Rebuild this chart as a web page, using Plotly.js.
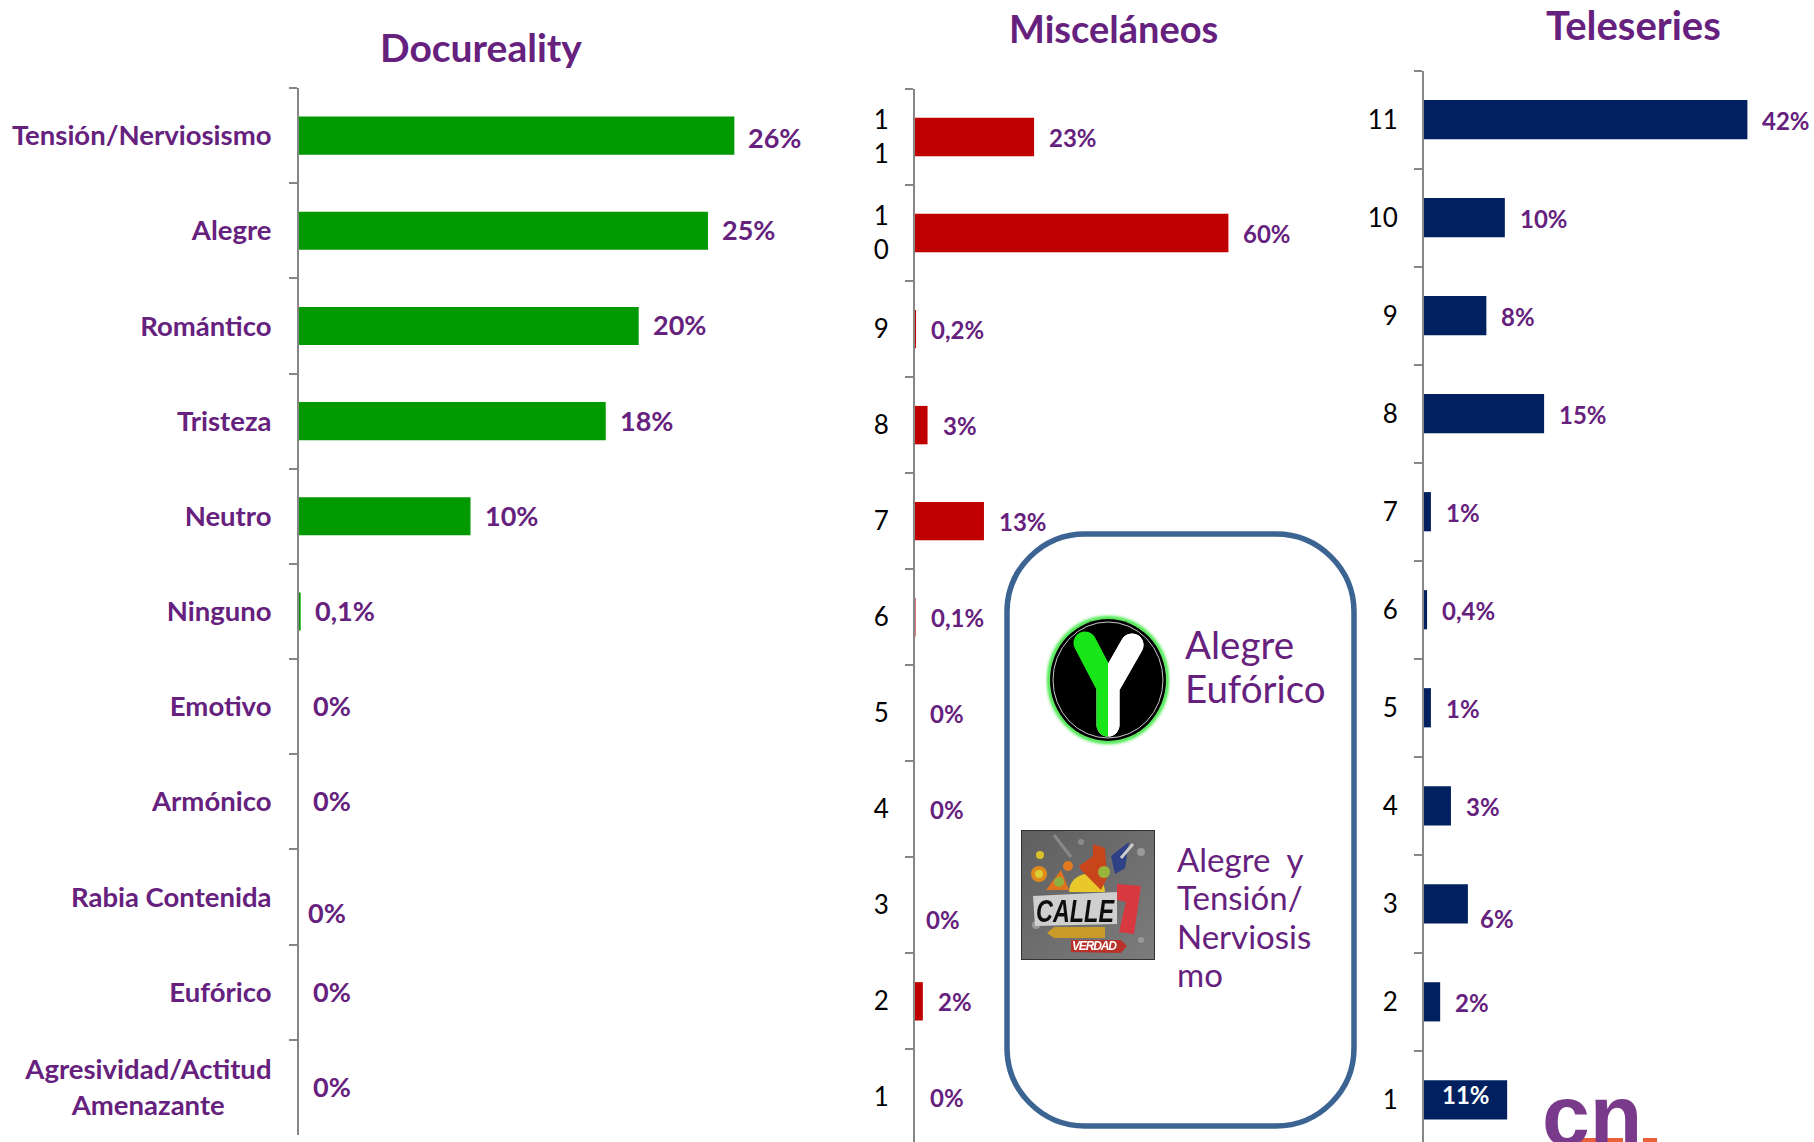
<!DOCTYPE html>
<html><head><meta charset="utf-8">
<script src="https://cdn.plot.ly/plotly-3.0.1.min.js"></script>
<style>html,body{margin:0;padding:0;background:#fff}#c{width:1814px;height:1142px}</style>
</head><body><div id="c"></div>
<script>
const W = 1814, H = 1142;
const PURPLE = '#65217d', GRAY = '#868686';
const FONT = 'Lato, "Open Sans", sans-serif';

// Data, top to bottom in each panel
const docuCategories = ['Tensión/Nerviosismo','Alegre','Romántico','Tristeza','Neutro','Ninguno','Emotivo','Armónico','Rabia Contenida','Eufórico','Agresividad/Actitud<br>Amenazante\u00a0\u00a0\u00a0\u00a0\u00a0\u00a0\u00a0'];
const docuValues = [26.4,24.8,20.6,18.6,10.4,0.1,0,0,0,0,0];
const docuLabels = ['26%','25%','20%','18%','10%','0,1%','0%','0%','0%','0%','0%'];

const miscCategories = ['1<br>1','1<br>0','9','8','7','6','5','4','3','2','1'];
const miscValues = [22.8,60,0.2,2.4,13.2,0.1,0,0,0,1.5,0];
const miscLabels = ['23%','60%','0,2%','3%','13%','0,1%','0%','0%','0%','2%','0%'];

const teleCategories = ['11','10','9','8','7','6','5','4','3','2','1'];
const teleValues = [42,10.5,8.1,15.6,0.9,0.4,0.9,3.5,5.7,2.1,10.8];
const teleLabels = ['42%','10%','8%','15%','1%','0,4%','1%','3%','6%','2%','11%'];

// Per-label nudges in pixels [x, y-up]; everything else uses the panel default
const docuNudge = {0:[12,-2], 8:[7,-15]};
const miscNudge = {8:[9,-14]};
const teleNudge = {8:[10,-15], 10:[-67,5]};

const px = x => x / W, py = y => 1 - y / H;
const panels = [
 {ax:'',  cats:docuCategories, vals:docuValues, labels:docuLabels, color:'#009900',
  left:299, right:830, top:88, bottom:1135, rmax:32.2, rbot:10.5,
  tickFont:{family:FONT,size:27.5,color:PURPLE,weight:700}, standoff:20, lsize:27, dx:12, dy:1, nudge:docuNudge},
 {ax:'2', cats:miscCategories, vals:miscValues, labels:miscLabels, color:'#c00000',
  left:915, right:1300, top:89, bottom:1142, rmax:73.7, rbot:10.465,
  tickFont:{family:FONT,size:26,color:'#000000'}, standoff:19, lsize:24, dx:13, dy:0, nudge:miscNudge},
 {ax:'3', cats:teleCategories, vals:teleValues, labels:teleLabels, color:'#002060',
  left:1424, right:1814, top:70.6, bottom:1142, rmax:50.65, rbot:10.43,
  tickFont:{family:FONT,size:26,color:'#000000'}, standoff:19, lsize:24, dx:13, dy:-1, nudge:teleNudge}
];

const traces = [], annotations = [];
const layout = {
  width:W, height:H, margin:{l:0,r:0,t:0,b:0}, showlegend:false,
  paper_bgcolor:'#fff', plot_bgcolor:'rgba(0,0,0,0)', font:{family:FONT},
  bargap:0.6, annotations
};
panels.forEach(p => {
  traces.push({type:'bar', orientation:'h', x:p.vals, y:p.cats, width:0.4, xaxis:'x'+p.ax, yaxis:'y'+p.ax,
    marker:{color:p.color, line:{width:0}}, hoverinfo:'skip', cliponaxis:false});
  layout['xaxis'+p.ax] = {domain:[px(p.left),px(p.right)], range:[0,p.rmax], visible:false, anchor:'y'+p.ax, fixedrange:true};
  layout['yaxis'+p.ax] = {domain:[py(p.bottom),py(p.top)], type:'category', categoryorder:'array', categoryarray:p.cats,
    range:[p.rbot,-0.5], anchor:'x'+p.ax, showline:true, linecolor:GRAY, linewidth:2, showgrid:false, zeroline:false,
    ticks:'outside', tickson:'boundaries', ticklen:8, tickwidth:2, tickcolor:GRAY, tickfont:p.tickFont,
    ticklabelstandoff:p.standoff, automargin:false, fixedrange:true};
  p.labels.forEach((t,i) => {
    const n = p.nudge[i] || [p.dx, p.dy];
    const white = p.ax==='3' && i===10;
    annotations.push({xref:'x'+p.ax, yref:'y'+p.ax, x:p.vals[i], y:i, text:t, showarrow:false,
      xanchor:'left', yanchor:'middle', xshift:n[0], yshift:n[1],
      font:{family:FONT,size:p.lsize,color:white?'#ffffff':PURPLE,weight:700}});
  });
});

function note(text,x,y,size,opt){
  annotations.push(Object.assign({xref:'paper',yref:'paper',x:px(x),y:py(y),text,showarrow:false,xanchor:'center',yanchor:'middle',
    font:{family:FONT,size,color:PURPLE}},opt||{}));
}
const tf = s => ({family:FONT,size:s,color:PURPLE,weight:700});
note('Docureality',481,47,39,{font:tf(39)});
note('Misceláneos',1113,28.5,38,{font:tf(38)});
note('Teleseries',1633,25,40,{font:tf(40)});
note('Alegre',1183,644,38.5,{xanchor:'left'});
note('Eufórico',1183,688,38.5,{xanchor:'left'});
['Alegre  y','Tensión/','Nerviosis','mo'].forEach((t,i)=>note(t.replace(/  /,'\u00a0\u00a0'),1175,859+i*38.3,33,{xanchor:'left'}));
note('cn',1592,1115,86,{font:{family:'"Liberation Sans",sans-serif',size:86,color:'#7a3a8c',weight:700}});

// Rounded frame
const b = {l:1007,r:1354,t:534,b:1126,rad:78}, k = b.rad*0.45;
const P = (x,y)=>px(x)+','+py(y);
layout.shapes = [
 {type:'path',xref:'paper',yref:'paper',line:{color:'#3b6493',width:5.5},fillcolor:'rgba(255,255,255,0)',
  path:'M'+P(b.l+b.rad,b.t)+' L'+P(b.r-b.rad,b.t)
   +' C'+P(b.r-k,b.t)+' '+P(b.r,b.t+k)+' '+P(b.r,b.t+b.rad)+' L'+P(b.r,b.b-b.rad)
   +' C'+P(b.r,b.b-k)+' '+P(b.r-k,b.b)+' '+P(b.r-b.rad,b.b)+' L'+P(b.l+b.rad,b.b)
   +' C'+P(b.l+k,b.b)+' '+P(b.l,b.b-k)+' '+P(b.l,b.b-b.rad)+' L'+P(b.l,b.t+b.rad)
   +' C'+P(b.l,b.t+k)+' '+P(b.l+k,b.t)+' '+P(b.l+b.rad,b.t)+' Z'},
 {type:'rect',xref:'paper',yref:'paper',x0:px(1573),x1:px(1623),y0:py(1142),y1:py(1138),fillcolor:'#e9613a',line:{width:0}},
 {type:'rect',xref:'paper',yref:'paper',x0:px(1643),x1:px(1657),y0:py(1142),y1:py(1138),fillcolor:'#e9613a',line:{width:0}}
];

// Programme logos
const ySvg = `<svg xmlns="http://www.w3.org/2000/svg" viewBox="0 0 124 132" width="124" height="132">
<defs><clipPath id="l"><rect x="0" y="0" width="62" height="132"/></clipPath><clipPath id="r"><rect x="62" y="0" width="62" height="132"/></clipPath>
<filter id="g"><feGaussianBlur stdDeviation="1.6"/></filter></defs>
<ellipse cx="62" cy="66" rx="59" ry="62" fill="none" stroke="#39e63c" stroke-width="4" filter="url(#g)"/>
<ellipse cx="62" cy="66" rx="58" ry="61" fill="#000"/>
<ellipse cx="62" cy="66" rx="55" ry="58" fill="none" stroke="#c8c8c8" stroke-width="1"/>
<path d="M86 31 L62 73 L62 111" fill="none" stroke="#fff" stroke-width="23" stroke-linecap="round" stroke-linejoin="round"/>
<path d="M39 29 L62 73 L62 111" fill="none" stroke="#19e619" stroke-width="23" stroke-linecap="round" stroke-linejoin="round" clip-path="url(#l)"/>
<path d="M86 31 L62 73 L62 111" fill="none" stroke="#fff" stroke-width="23" stroke-linecap="round" stroke-linejoin="round" clip-path="url(#r)"/></svg>`;
const cSvg = `<svg xmlns="http://www.w3.org/2000/svg" viewBox="0 0 134 130" width="134" height="130">
<defs><linearGradient id="bg" x1="0" y1="0" x2="1" y2="1"><stop offset="0" stop-color="#5f5f5f"/><stop offset="1" stop-color="#7c7c7c"/></linearGradient>
<filter id="s"><feGaussianBlur stdDeviation="0.7"/></filter></defs>
<rect width="134" height="130" fill="url(#bg)"/>
<g filter="url(#s)">
<circle cx="60" cy="12" r="3" fill="#8a8a8a"/><circle cx="120" cy="22" r="4" fill="#999"/><circle cx="15" cy="95" r="4" fill="#999"/><circle cx="120" cy="110" r="3" fill="#999"/>
<path d="M33 5 L50 27" stroke="#888" stroke-width="3"/>
<circle cx="19" cy="25" r="4" fill="#d9c22a"/><circle cx="18" cy="44" r="8" fill="#e08a1e"/><circle cx="18" cy="44" r="4" fill="#d8d030"/>
<path d="M25 60 L40 40 L48 60 Z" fill="#e0721e"/><circle cx="38" cy="52" r="5" fill="#90b040"/><circle cx="47" cy="36" r="5" fill="#e27a20"/>
<path d="M48 62 A18 18 0 0 1 84 62 Z" fill="#e8c82a"/>
<path d="M58 36 L72 26 L72 14 L84 18 L86 48 L80 60 L60 40 Z" fill="#c8441f"/><circle cx="83" cy="42" r="6" fill="#9ab53a"/>
<path d="M90 26 L108 12 L104 38 L94 44 Z" fill="#2e3f86"/><path d="M100 28 L112 14" stroke="#ccc" stroke-width="3"/>
<path d="M12 66 L96 62 L96 94 L14 96 Z" fill="#cfcfcf"/>
<text x="15" y="92" font-family="Liberation Sans" font-weight="700" font-style="italic" font-size="31" fill="#111" textLength="78" lengthAdjust="spacingAndGlyphs">CALLE</text>
<path d="M96 54 L120 56 L113 104 L98 102 L105 72 L96 70 Z" fill="#d8373f"/>
<path d="M26 103 L33 97 L84 97 L84 108 L33 108 Z" fill="#c99a2a"/>
<path d="M50 110 L100 110 L106 116 L100 123 L50 122 Z" fill="#b9322a"/>
<text x="51" y="120" font-family="Liberation Sans" font-weight="700" font-style="italic" font-size="12" fill="#fff" textLength="45">VERDAD</text>
</g><rect x=".5" y=".5" width="133" height="129" fill="none" stroke="#333"/></svg>`;
const uri = s => 'data:image/svg+xml;charset=utf-8,' + encodeURIComponent(s);
layout.images = [
 {source:uri(ySvg),xref:'paper',yref:'paper',x:px(1046),y:py(614),sizex:124/W,sizey:132/H,sizing:'stretch',xanchor:'left',yanchor:'top',layer:'above'},
 {source:uri(cSvg),xref:'paper',yref:'paper',x:px(1021),y:py(830),sizex:134/W,sizey:130/H,sizing:'stretch',xanchor:'left',yanchor:'top',layer:'above'}
];

Plotly.newPlot('c', traces, layout, {displayModeBar:false, staticPlot:true});
</script></body></html>
